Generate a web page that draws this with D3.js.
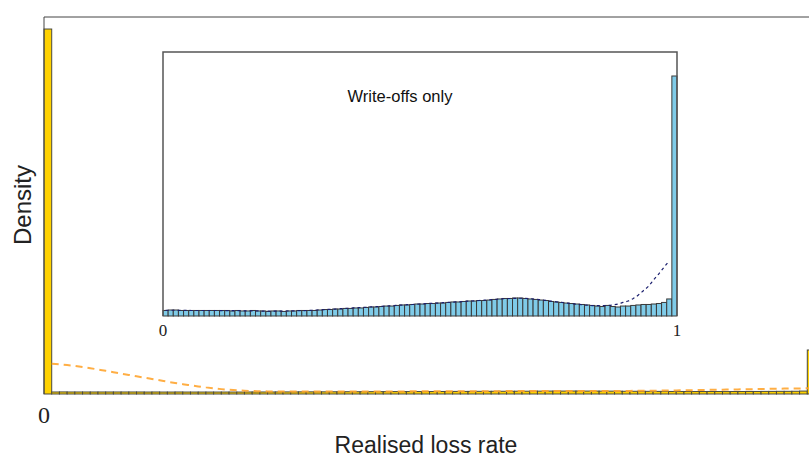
<!DOCTYPE html>
<html>
<head>
<meta charset="utf-8">
<script src="https://cdn.jsdelivr.net/npm/d3@7"></script>
<style>
  html, body { margin: 0; padding: 0; background: #fff; overflow: hidden; }
  svg { display: block; }
</style>
</head>
<body>
<svg id="chart" width="809" height="459"></svg>
<script>
// Histogram of realised loss rates (100 bins of width 0.01), density scale
const binEdges = d3.range(0, 101).map(i => i / 100);

// All loans: density per bin
const allDensity = [
  56.15, 0.31, 0.32, 0.31, 0.31, 0.31, 0.31, 0.31, 0.31, 0.31,
  0.31, 0.31, 0.31, 0.30, 0.31, 0.30, 0.30, 0.31, 0.30, 0.30,
  0.30, 0.30, 0.30, 0.30, 0.30, 0.30, 0.31, 0.31, 0.31, 0.31,
  0.32, 0.32, 0.32, 0.33, 0.33, 0.33, 0.33, 0.34, 0.34, 0.35,
  0.35, 0.35, 0.36, 0.36, 0.36, 0.37, 0.37, 0.37, 0.38, 0.38,
  0.38, 0.39, 0.39, 0.40, 0.40, 0.40, 0.41, 0.41, 0.42, 0.42,
  0.42, 0.43, 0.43, 0.44, 0.44, 0.45, 0.45, 0.45, 0.46, 0.46,
  0.45, 0.45, 0.44, 0.44, 0.43, 0.42, 0.42, 0.41, 0.41, 0.40,
  0.40, 0.39, 0.39, 0.38, 0.38, 0.38, 0.39, 0.38, 0.37, 0.38,
  0.38, 0.39, 0.39, 0.40, 0.40, 0.41, 0.41, 0.42, 0.45, 6.77
];

// Kernel density estimate for all loans, evaluated at x = 0.01 ... 1.00
const allKde = [
  4.66, 4.58, 4.46, 4.31, 4.15, 3.97, 3.77, 3.57, 3.35, 3.14,
  2.94, 2.72, 2.51, 2.31, 2.11, 1.89, 1.69, 1.51, 1.34, 1.17,
  1.02, 0.88, 0.75, 0.65, 0.57, 0.51, 0.46, 0.43, 0.40, 0.39,
  0.38, 0.38, 0.38, 0.38, 0.38, 0.38, 0.38, 0.38, 0.38, 0.39,
  0.39, 0.39, 0.39, 0.39, 0.40, 0.40, 0.40, 0.41, 0.41, 0.41,
  0.42, 0.42, 0.42, 0.43, 0.43, 0.43, 0.44, 0.44, 0.44, 0.45,
  0.45, 0.45, 0.45, 0.46, 0.46, 0.46, 0.46, 0.46, 0.46, 0.46,
  0.46, 0.46, 0.46, 0.47, 0.47, 0.48, 0.49, 0.50, 0.51, 0.52,
  0.53, 0.55, 0.57, 0.59, 0.61, 0.63, 0.65, 0.67, 0.69, 0.71,
  0.73, 0.75, 0.77, 0.79, 0.81, 0.83, 0.85, 0.86, 0.87, 0.88
];

// Write-offs only: density per bin
const writeOffDensity = [
  0.46, 0.50, 0.50, 0.46, 0.46, 0.46, 0.46, 0.46, 0.46, 0.46,
  0.46, 0.46, 0.46, 0.42, 0.46, 0.42, 0.42, 0.46, 0.42, 0.42,
  0.38, 0.42, 0.42, 0.38, 0.42, 0.42, 0.46, 0.46, 0.46, 0.46,
  0.50, 0.54, 0.54, 0.58, 0.58, 0.63, 0.63, 0.67, 0.67, 0.71,
  0.75, 0.75, 0.79, 0.83, 0.83, 0.88, 0.92, 0.92, 0.96, 1.00,
  1.00, 1.04, 1.04, 1.08, 1.08, 1.13, 1.17, 1.17, 1.21, 1.25,
  1.25, 1.29, 1.29, 1.33, 1.38, 1.42, 1.46, 1.46, 1.50, 1.50,
  1.46, 1.42, 1.38, 1.33, 1.29, 1.21, 1.17, 1.13, 1.08, 1.04,
  1.00, 0.96, 0.92, 0.88, 0.83, 0.79, 0.88, 0.79, 0.75, 0.83,
  0.83, 0.88, 0.92, 0.96, 0.96, 1.00, 1.04, 1.13, 1.42, 20.00
];

// Kernel density estimate for write-offs, evaluated at bin centres 0.005 ... 0.985
const writeOffKde = [
  0.47, 0.48, 0.48, 0.47, 0.47, 0.46, 0.46, 0.46, 0.46, 0.46,
  0.46, 0.45, 0.45, 0.45, 0.44, 0.44, 0.43, 0.43, 0.42, 0.41,
  0.41, 0.41, 0.41, 0.41, 0.42, 0.43, 0.44, 0.45, 0.47, 0.49,
  0.51, 0.53, 0.56, 0.58, 0.61, 0.63, 0.66, 0.68, 0.71, 0.73,
  0.76, 0.78, 0.81, 0.83, 0.86, 0.88, 0.91, 0.94, 0.96, 0.99,
  1.01, 1.04, 1.06, 1.08, 1.11, 1.13, 1.16, 1.18, 1.21, 1.24,
  1.26, 1.29, 1.32, 1.35, 1.38, 1.41, 1.44, 1.46, 1.47, 1.48,
  1.47, 1.44, 1.40, 1.35, 1.30, 1.24, 1.18, 1.13, 1.08, 1.03,
  0.98, 0.94, 0.90, 0.87, 0.86, 0.86, 0.88, 0.92, 1.00, 1.13,
  1.25, 1.46, 1.75, 2.13, 2.50, 3.04, 3.54, 4.08, 4.58
];

const mainTicks = [0];
const insetTicks = [0, 1];

const svg = d3.select("#chart");

// ---------- main panel ----------
const main = { left: 44, right: 815, top: 17, bottom: 394 };
const x = d3.scaleLinear().domain([0, 1]).range([main.left, main.right]);
const y = d3.scaleLinear().domain([0, 58]).range([main.bottom, main.top]);

const mainG = svg.append("g");

mainG.selectAll("rect.bar")
  .data(allDensity)
  .join("rect")
  .attr("class", "bar")
  .attr("x", (d, i) => x(binEdges[i]))
  .attr("width", (d, i) => x(binEdges[i + 1]) - x(binEdges[i]))
  .attr("y", d => y(d))
  .attr("height", d => y(0) - y(d))
  .attr("fill", "#ffd200")
  .attr("stroke", "#4a4a40")
  .attr("stroke-width", 1);

mainG.append("path")
  .datum(allKde)
  .attr("fill", "none")
  .attr("stroke", "#ffa530")
  .attr("stroke-opacity", 0.9)
  .attr("stroke-width", 2)
  .attr("stroke-dasharray", "7,5")
  .attr("d", d3.line()
    .x((d, i) => x(binEdges[i + 1]))
    .y(d => y(d))
    .curve(d3.curveMonotoneX));

// frame: left and top edges
mainG.append("path")
  .attr("fill", "none")
  .attr("stroke", "#444")
  .attr("stroke-width", 1)
  .attr("d", `M${x(0)},${y(0)}V${y(58)}H${x(1)}`);

mainG.selectAll("text.tick")
  .data(mainTicks)
  .join("text")
  .attr("class", "tick")
  .attr("x", d => x(d))
  .attr("y", 423)
  .attr("text-anchor", "middle")
  .attr("font-family", "'Liberation Serif', 'DejaVu Serif', serif")
  .attr("font-size", 24)
  .attr("fill", "#222")
  .text(d => d);

svg.append("text")
  .attr("x", 426)
  .attr("y", 453)
  .attr("text-anchor", "middle")
  .attr("font-family", "'Liberation Sans', Arial, sans-serif")
  .attr("font-size", 23)
  .attr("fill", "#222")
  .text("Realised loss rate");

svg.append("text")
  .attr("transform", "translate(31,205) rotate(-90)")
  .attr("text-anchor", "middle")
  .attr("font-family", "'Liberation Sans', Arial, sans-serif")
  .attr("font-size", 24)
  .attr("fill", "#222")
  .text("Density");

// ---------- inset: write-offs only ----------
const inset = { left: 163, right: 677, top: 52, bottom: 316 };
const xi = d3.scaleLinear().domain([0, 1]).range([inset.left, inset.right]);
const yi = d3.scaleLinear().domain([0, 22]).range([inset.bottom, inset.top]);

const insetG = svg.append("g");

insetG.append("rect")
  .attr("x", inset.left)
  .attr("y", inset.top)
  .attr("width", inset.right - inset.left)
  .attr("height", inset.bottom - inset.top)
  .attr("fill", "#fff");

insetG.selectAll("rect.bar")
  .data(writeOffDensity)
  .join("rect")
  .attr("class", "bar")
  .attr("x", (d, i) => xi(binEdges[i]))
  .attr("width", (d, i) => xi(binEdges[i + 1]) - xi(binEdges[i]))
  .attr("y", d => yi(d))
  .attr("height", d => yi(0) - yi(d))
  .attr("fill", "#7fcbe8")
  .attr("stroke", "#3a3a3a")
  .attr("stroke-width", 1);

insetG.append("path")
  .datum(writeOffKde)
  .attr("fill", "none")
  .attr("stroke", "#1b1f6e")
  .attr("stroke-width", 1.2)
  .attr("stroke-dasharray", "3,3")
  .attr("d", d3.line()
    .x((d, i) => xi((binEdges[i] + binEdges[i + 1]) / 2))
    .y(d => yi(d))
    .curve(d3.curveMonotoneX));

insetG.append("path")
  .attr("fill", "none")
  .attr("stroke", "#555")
  .attr("stroke-width", 1.5)
  .attr("d", `M${xi(0)},${yi(0)}V${yi(22)}H${xi(1)}V${yi(0)}`);

insetG.selectAll("text.tick")
  .data(insetTicks)
  .join("text")
  .attr("class", "tick")
  .attr("x", d => xi(d))
  .attr("y", 336)
  .attr("text-anchor", "middle")
  .attr("font-family", "'Liberation Serif', 'DejaVu Serif', serif")
  .attr("font-size", 17)
  .attr("fill", "#222")
  .text(d => d);

insetG.append("text")
  .attr("x", 400)
  .attr("y", 102)
  .attr("text-anchor", "middle")
  .attr("font-family", "'Liberation Sans', Arial, sans-serif")
  .attr("font-size", 16.5)
  .attr("fill", "#111")
  .text("Write-offs only");
</script>
</body>
</html>
